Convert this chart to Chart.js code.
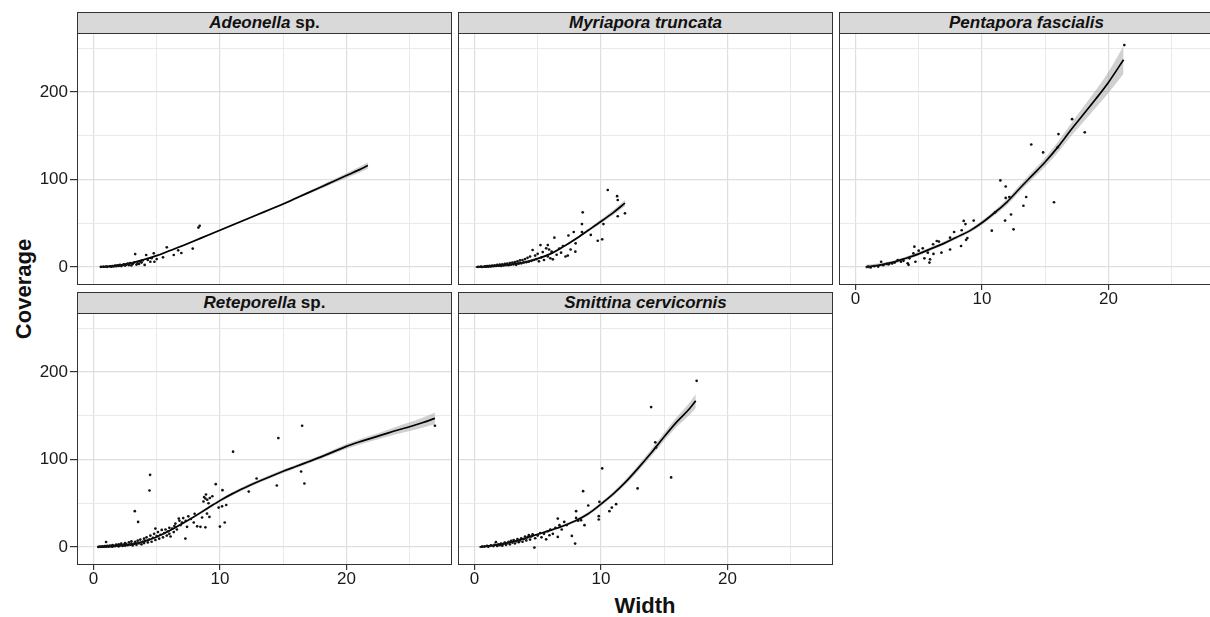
<!DOCTYPE html>
<html>
<head>
<meta charset="utf-8">
<script src="https://cdn.jsdelivr.net/npm/chart.js@4.4.1/dist/chart.umd.min.js"></script>
<style>
  html, body { margin: 0; padding: 0; background: #fff; overflow: hidden; }
  body { width: 1210px; height: 617px; position: relative; font-family: "Liberation Sans", Arial, sans-serif; }
  canvas { position: absolute; }
  .strip {
    position: absolute; box-sizing: border-box; width: 375px; height: 22px;
    background: #d9d9d9; border: 1px solid #333; text-align: center;
    font-weight: bold; font-size: 17px; line-height: 20px; color: #111; white-space: nowrap;
  }
  .ytitle { position: absolute; left: 24px; top: 289px; transform: translate(-50%, -50%) rotate(-90deg); font-weight: bold; font-size: 22px; color: #111; white-space: nowrap; }
  .xtitle { position: absolute; left: 645px; top: 606px; transform: translate(-50%, -50%); font-weight: bold; font-size: 22px; color: #111; }
</style>
</head>
<body>
<div class="ytitle">Coverage</div>
<div class="xtitle">Width</div>
<script>
/* ---- dados ---- */
const xTicks = [0, 5, 10, 15, 20, 25];
const xLabels = [0, 10, 20];
const yTicks = [0, 50, 100, 150, 200, 250];
const yLabels = [0, 100, 200];
const xRange = [-1.3, 28.35];
const yRange = [-20.6, 267.5];

const panelTitles = [
  '<i>Adeonella</i> sp.',
  '<i>Myriapora truncata</i>',
  '<i>Pentapora fascialis</i>',
  '<i>Reteporella</i> sp.',
  '<i>Smittina cervicornis</i>'
];

// Adeonella sp.
const adeoFitX  = [0.5, 1, 2, 3, 4, 5, 6, 7, 8, 9, 10, 11, 12, 13, 14, 15, 16, 17, 18, 19, 20, 21, 21.7];
const adeoFitY  = [0, 0.5, 2, 4.5, 8.5, 13, 18.5, 24, 30, 36, 42, 48, 54, 60, 66, 72, 78.5, 85, 91.5, 98, 104.5, 111, 116];
const adeoFitLo = [-1.5, -0.7, 1, 3.5, 7.5, 12, 17.5, 23, 29, 35, 41, 47, 53, 59, 64.8, 70.7, 77, 83.3, 89.5, 95.7, 101.8, 107.8, 112.2];
const adeoFitHi = [1.5, 1.7, 3, 5.5, 9.5, 14, 19.5, 25, 31, 37, 43, 49, 55, 61, 67.2, 73.3, 80, 86.7, 93.5, 100.3, 107.2, 114.2, 119.8];
const adeoPts = [
  [0.6,0.2],[0.8,0.3],[1.0,0.5],[1.1,0.2],[1.3,0.8],[1.4,0.4],[1.5,1.0],[1.6,0.6],[1.7,1.5],[1.8,0.9],
  [1.9,1.8],[2.0,1.2],[2.1,2.5],[2.2,1.0],[2.3,2.0],[2.4,3.0],[2.5,1.6],[2.6,2.6],[2.7,3.8],[2.8,2.2],
  [2.9,4.5],[3.0,1.8],[3.1,3.5],[3.2,5.0],[3.3,14.8],[3.4,2.8],[3.5,4.2],[3.6,3.4],[3.7,6.0],[3.8,5.0],
  [3.9,7.5],[4.05,2.3],[4.17,13.7],[4.3,8],[4.5,6],[4.6,10],[4.77,15.6],[4.82,6],[5.0,9],[5.5,11],
  [5.8,22.5],[6.35,13.7],[6.7,19],[6.95,16],[7.85,21],[8.3,45],[8.4,47]
];

// Myriapora truncata
const myriFitX  = [0.1, 1, 2, 3, 4, 5, 6, 7, 8, 9, 10, 11, 11.9];
const myriFitY  = [0, 0.5, 1.5, 3, 5.5, 9.5, 15, 23, 32, 42, 52, 62.5, 73];
const myriFitLo = [-1, -0.3, 0.7, 2.2, 4.5, 8.5, 13.8, 21.7, 30.5, 40.2, 49.8, 59.7, 69.5];
const myriFitHi = [1, 1.3, 2.3, 3.8, 6.5, 10.5, 16.2, 24.3, 33.5, 43.8, 54.2, 65.3, 76.5];
const myriPts = [
  [0.3,0.2],[0.5,0.5],[0.6,0.1],[0.8,0.8],[0.9,0.3],[1.0,1.0],[1.1,0.5],[1.2,1.3],[1.3,0.6],[1.4,1.6],
  [1.5,0.9],[1.6,2.0],[1.7,1.1],[1.8,2.4],[1.9,1.4],[2.0,2.8],[2.1,1.2],[2.2,3.0],[2.3,1.8],[2.4,3.5],
  [2.5,2.2],[2.6,4.0],[2.7,2.0],[2.8,4.5],[2.9,2.8],[3.0,5.0],[3.1,3.0],[3.2,5.5],[3.3,2.5],[3.4,6.5],
  [3.5,3.8],[3.6,7.5],[3.7,4.2],[3.8,8.0],[3.9,5.0],[4.0,9.0],[4.1,5.5],[4.2,10.5],[4.3,6.0],[4.4,12],
  [4.5,7],[4.6,19.4],[4.7,8],[4.8,13],[4.9,9],[5.0,15],[5.1,6.5],[5.22,25],[5.3,11],[5.4,17],
  [5.5,8],[5.67,21.3],[5.8,25],[5.8,12],[5.9,20],[6.0,10],[6.1,17.5],[6.2,8.8],[6.32,33.5],[6.5,14],
  [6.7,21],[6.85,16.4],[7.0,24],[7.2,12],[7.38,13],[7.43,36],[7.6,20],[7.85,40],[7.98,17.5],[8.0,27],
  [8.5,49],[8.5,40],[8.56,62.5],[9.2,36.6],[9.75,30],[10.1,31.6],[10.2,49],[10.54,88],[11.28,81],[11.33,76.6],
  [11.33,58],[11.9,61.3]
];

// Pentapora fascialis
const pentFitX  = [0.8, 2, 3, 4, 5, 6, 7, 8, 9, 10, 11, 12, 13, 14, 15, 16, 17, 18, 19, 20, 21.2];
const pentFitY  = [0, 2.5, 5.5, 10, 15, 21, 27, 34, 41, 50.5, 62, 74.5, 90, 105, 120, 137, 156, 174, 192, 211, 237];
const pentFitLo = [-2.5, 0.5, 3.5, 8, 13, 19, 25, 32, 39, 48, 59, 71, 86, 100.5, 115, 131, 149, 165.5, 182, 199, 221];
const pentFitHi = [2.5, 4.5, 7.5, 12, 17, 23, 29, 36, 43, 53, 65, 78, 94, 109.5, 125, 143, 163, 182.5, 202, 223, 253];
const pentPts = [
  [1.0,0.5],[1.2,-0.5],[1.5,1],[1.8,0.5],[2.03,6],[2.2,2],[2.5,3.5],[2.63,3],[2.9,4],[3.1,5],
  [3.34,8],[3.6,6],[3.8,7],[4.13,4.2],[4.2,2.5],[4.27,9.9],[4.58,15.6],[4.66,23.2],[4.74,6],[5.0,18.6],
  [5.32,21.3],[5.45,9.9],[5.72,16.4],[5.85,5],[5.9,8.8],[6.14,26],[6.17,14.9],[6.43,29.7],[6.6,29],[6.8,16.4],
  [7.48,33.5],[7.48,20],[7.8,40],[8.35,24],[8.4,42],[8.56,52.6],[8.7,49],[8.75,31],[8.85,33],[9.35,53],
  [10.78,41.5],[11.04,62.5],[11.46,99],[11.83,53],[11.88,92],[11.88,79],[12.17,80],[12.3,60],[12.5,43],[13.28,70],
  [13.5,80],[13.9,140],[14.84,131],[15.7,74],[16.0,137],[16.05,152],[17.13,169],[18.13,154],[21.26,253.7]
];

// Reteporella sp.
const retFitX  = [0.3, 1, 2, 3, 4, 5, 6, 7, 8, 9, 10, 11, 12, 13, 14, 15, 16, 17, 18, 19, 20, 21, 22, 23, 24, 25, 26, 27];
const retFitY  = [0, 0.5, 1.5, 3, 6.5, 11.5, 18.5, 26.5, 35, 44, 53, 61, 68, 74.5, 80.5, 86.5, 92, 97.5, 103, 109, 115, 120, 124.5, 129, 133.5, 137.5, 142, 147];
const retFitLo = [-1, -0.5, 0.5, 2, 5.5, 10.5, 17.3, 25.2, 33.5, 42.4, 51.2, 59, 66, 72.5, 78.5, 84.5, 90, 95.5, 100.8, 106.6, 112.3, 117, 121.2, 125.3, 129.3, 132.5, 136.2, 140.2];
const retFitHi = [1, 1.5, 2.5, 4, 7.5, 12.5, 19.7, 27.8, 36.5, 45.6, 54.8, 63, 70, 76.5, 82.5, 88.5, 94, 99.5, 105.2, 111.4, 117.7, 123, 127.8, 132.7, 137.7, 142.5, 147.8, 153.8];
const retPts = [
  [0.4,0.1],[0.5,0.4],[0.6,0.2],[0.7,0.6],[0.8,0.3],[0.9,0.9],[1.0,5.7],[1.0,0.5],[1.1,1.2],[1.2,0.4],
  [1.3,1.5],[1.4,0.8],[1.5,2.2],[1.5,0.3],[1.6,1.6],[1.7,0.9],[1.8,2.6],[1.9,1.3],[2.0,3.0],[2.0,0.8],
  [2.1,2.0],[2.2,3.8],[2.3,1.2],[2.4,2.8],[2.5,4.5],[2.5,1.5],[2.6,3.2],[2.7,2.0],[2.8,5.2],[2.9,2.6],
  [3.0,4.0],[3.0,6.5],[3.1,1.8],[3.2,3.5],[3.27,40.9],[3.3,5.8],[3.4,2.5],[3.5,7.2],[3.53,28.6],[3.6,4.2],
  [3.7,8.5],[3.8,3.0],[3.9,6.0],[4.0,9.5],[4.0,4.5],[4.1,7.0],[4.2,11],[4.3,5.2],[4.43,64.6],[4.48,82.5],
  [4.4,8.5],[4.5,13],[4.6,6.0],[4.7,10.5],[4.8,15],[4.9,21],[4.9,8.0],[5.0,12.5],[5.1,17],[5.2,9.5],
  [5.3,14],[5.4,19.5],[5.5,11],[5.6,16],[5.7,20],[5.8,13],[5.9,18],[6.0,22],[6.0,15],[6.1,12],
  [6.22,21],[6.35,17],[6.4,24],[6.48,26.8],[6.6,20],[6.75,32.5],[6.8,30],[6.9,25],[7.0,28],[7.1,33],
  [7.27,9.6],[7.3,30],[7.4,23],[7.5,35],[7.7,32],[7.93,28],[8.0,38],[8.2,23.6],[8.46,23],[8.59,33.7],
  [8.7,52],[8.75,57],[8.85,55.4],[8.9,60],[8.85,22.5],[8.98,38.2],[9.0,54],[9.1,50],[9.17,34.4],[9.2,56],
  [9.4,58],[9.67,71.8],[9.9,45],[10.0,23.3],[10.17,46.5],[10.2,65],[10.38,28],[10.5,48],[11.04,109],[12.28,63.4],
  [12.9,78.3],[14.5,70.3],[14.62,124.5],[16.42,86.3],[16.5,138.6],[16.68,72.6],[27.0,138.6]
];

// Smittina cervicornis
const smitFitX  = [0.4, 1, 2, 3, 4, 5, 6, 7, 8, 9, 10, 11, 12, 13, 14, 15, 16, 17, 17.5];
const smitFitY  = [0, 1, 3, 6, 10, 14.5, 19, 24, 30, 38, 49, 61, 75, 91, 108, 126, 143, 158, 167];
const smitFitLo = [-1, 0, 2, 5, 9, 13.5, 17.8, 22.5, 28.2, 36, 46.8, 58.5, 72, 87.5, 104, 121.5, 137.5, 151, 159];
const smitFitHi = [1, 2, 4, 7, 11, 15.5, 20.2, 25.5, 31.8, 40, 51.2, 63.5, 78, 94.5, 112, 130.5, 148.5, 165, 175];
const smitPts = [
  [0.6,0.3],[0.8,0.5],[1.0,1.2],[1.1,0.4],[1.3,1.8],[1.5,1.0],[1.6,2.5],[1.7,5.5],[1.8,1.2],[1.9,3.0],
  [2.0,2.0],[2.1,4.0],[2.2,1.5],[2.3,3.5],[2.4,5.0],[2.5,2.5],[2.6,4.5],[2.7,6.0],[2.8,3.0],[2.9,7.0],
  [3.0,5.0],[3.1,8.0],[3.2,4.0],[3.3,6.5],[3.4,9.0],[3.5,5.5],[3.6,7.5],[3.7,10],[3.8,6.0],[3.9,9.0],
  [4.0,12],[4.1,7.5],[4.2,11],[4.3,13.5],[4.4,8.5],[4.5,12],[4.6,14.5],[4.74,-0.7],[4.8,10],[5.0,13],
  [5.2,16],[5.3,11],[5.5,15],[5.67,8.8],[5.8,18],[5.93,13.4],[6.0,20],[6.2,15],[6.4,22],[6.59,11.5],
  [6.59,32.5],[6.72,24.9],[6.9,20],[7.1,28.6],[7.3,25],[7.7,12.6],[7.96,3.9],[8.04,40.9],[8.04,33.2],[8.2,30],
  [8.43,30.6],[8.59,63.8],[8.7,24.9],[9.0,47.4],[9.83,35.2],[9.83,31.4],[9.88,51.6],[10.1,89.8],[10.67,40.9],[10.86,45],
  [11.2,48.9],[12.9,67],[13.97,160],[14.3,119.6],[14.36,113.8],[15.55,79.5],[17.57,190]
];

/* ---- layout ---- */
const colLeft = [77, 458, 839];
const rowTop = [33, 313];
const plotW = 375, plotH = 252, yAxisW = 77, xAxisH = 30;

const panels = [
  { col: 0, row: 0, yAxis: true,  xAxis: false, pts: adeoPts, fx: adeoFitX, fy: adeoFitY, lo: adeoFitLo, hi: adeoFitHi },
  { col: 1, row: 0, yAxis: false, xAxis: false, pts: myriPts, fx: myriFitX, fy: myriFitY, lo: myriFitLo, hi: myriFitHi },
  { col: 2, row: 0, yAxis: false, xAxis: true,  pts: pentPts, fx: pentFitX, fy: pentFitY, lo: pentFitLo, hi: pentFitHi },
  { col: 0, row: 1, yAxis: true,  xAxis: true,  pts: retPts,  fx: retFitX,  fy: retFitY,  lo: retFitLo,  hi: retFitHi },
  { col: 1, row: 1, yAxis: false, xAxis: true,  pts: smitPts, fx: smitFitX, fy: smitFitY, lo: smitFitLo, hi: smitFitHi }
];

const gridMajor = '#dedede', gridMinor = '#e8e8e8', frameColor = '#333', textColor = '#1a1a1a';
const tickFont = { family: '"Liberation Sans", Arial, sans-serif', size: 17 };

Chart.defaults.font.family = '"Liberation Sans", Arial, sans-serif';
Chart.defaults.font.size = 17;

// moldura do painel (4 lados, como no ggplot)
const panelFrame = {
  id: 'panelFrame',
  afterDatasetsDraw(chart) {
    const a = chart.chartArea, ctx = chart.ctx;
    ctx.save();
    ctx.strokeStyle = frameColor;
    ctx.lineWidth = 1;
    ctx.strokeRect(a.left + 0.5, a.top + 0.5, a.right - a.left - 1, a.bottom - a.top - 1);
    ctx.restore();
  }
};

const toXY = (xs, ys) => xs.map((x, i) => ({ x, y: ys[i] }));

panels.forEach((p, i) => {
  const strip = document.createElement('div');
  strip.className = 'strip';
  strip.style.left = colLeft[p.col] + 'px';
  strip.style.top = (rowTop[p.row] - 21) + 'px';
  strip.innerHTML = panelTitles[i];
  document.body.appendChild(strip);

  const cv = document.createElement('canvas');
  const w = plotW + (p.yAxis ? yAxisW : 0);
  const h = plotH + (p.xAxis ? xAxisH : 0);
  cv.width = w; cv.height = h;
  cv.style.width = w + 'px'; cv.style.height = h + 'px';
  cv.style.left = (colLeft[p.col] - (p.yAxis ? yAxisW : 0)) + 'px';
  cv.style.top = rowTop[p.row] + 'px';
  document.body.appendChild(cv);

  new Chart(cv, {
    type: 'scatter',
    data: {
      datasets: [
        { data: p.pts.map(d => ({ x: d[0], y: d[1] })), pointRadius: 1.35, pointBackgroundColor: '#111', pointBorderWidth: 0 },
        { data: toXY(p.fx, p.fy), showLine: true, borderColor: '#000', borderWidth: 1.7, pointRadius: 0, cubicInterpolationMode: 'monotone', fill: false },
        { data: toXY(p.fx, p.hi), showLine: true, borderWidth: 0, pointRadius: 0, cubicInterpolationMode: 'monotone', fill: '+1', backgroundColor: 'rgba(150,150,150,0.45)' },
        { data: toXY(p.fx, p.lo), showLine: true, borderWidth: 0, pointRadius: 0, cubicInterpolationMode: 'monotone', fill: false }
      ]
    },
    options: {
      responsive: false,
      animation: false,
      events: [],
      layout: { padding: 0, autoPadding: false },
      plugins: { legend: { display: false }, tooltip: { enabled: false } },
      scales: {
        x: {
          type: 'linear', min: xRange[0], max: xRange[1],
          afterBuildTicks: s => { s.ticks = xTicks.map(v => ({ value: v })); },
          afterFit: s => { s.height = p.xAxis ? xAxisH : 0; s.paddingLeft = 0; s.paddingRight = 0; },
          border: { display: false },
          grid: {
            color: c => (c.tick && c.tick.value % 10 === 0) ? gridMajor : gridMinor,
            lineWidth: c => (c.tick && c.tick.value % 10 === 0) ? 1.2 : 0.9,
            drawTicks: p.xAxis, tickLength: 5,
            tickColor: c => (c.tick && xLabels.includes(c.tick.value)) ? frameColor : 'transparent'
          },
          ticks: {
            display: p.xAxis, padding: -1, color: textColor, font: tickFont, maxRotation: 0,
            callback: v => xLabels.includes(v) ? String(v) : ''
          }
        },
        y: {
          type: 'linear', min: yRange[0], max: yRange[1],
          afterBuildTicks: s => { s.ticks = yTicks.map(v => ({ value: v })); },
          afterFit: s => { s.width = p.yAxis ? yAxisW : 0; s.paddingTop = 0; s.paddingBottom = 0; },
          border: { display: false },
          grid: {
            color: c => (c.tick && c.tick.value % 100 === 0) ? gridMajor : gridMinor,
            lineWidth: c => (c.tick && c.tick.value % 100 === 0) ? 1.2 : 0.9,
            drawTicks: p.yAxis, tickLength: 7,
            tickColor: c => (c.tick && yLabels.includes(c.tick.value)) ? frameColor : 'transparent'
          },
          ticks: {
            display: p.yAxis, padding: 2, color: textColor, font: tickFont,
            callback: v => yLabels.includes(v) ? String(v) : ''
          }
        }
      }
    },
    plugins: [panelFrame]
  });
});
</script>
</body>
</html>
